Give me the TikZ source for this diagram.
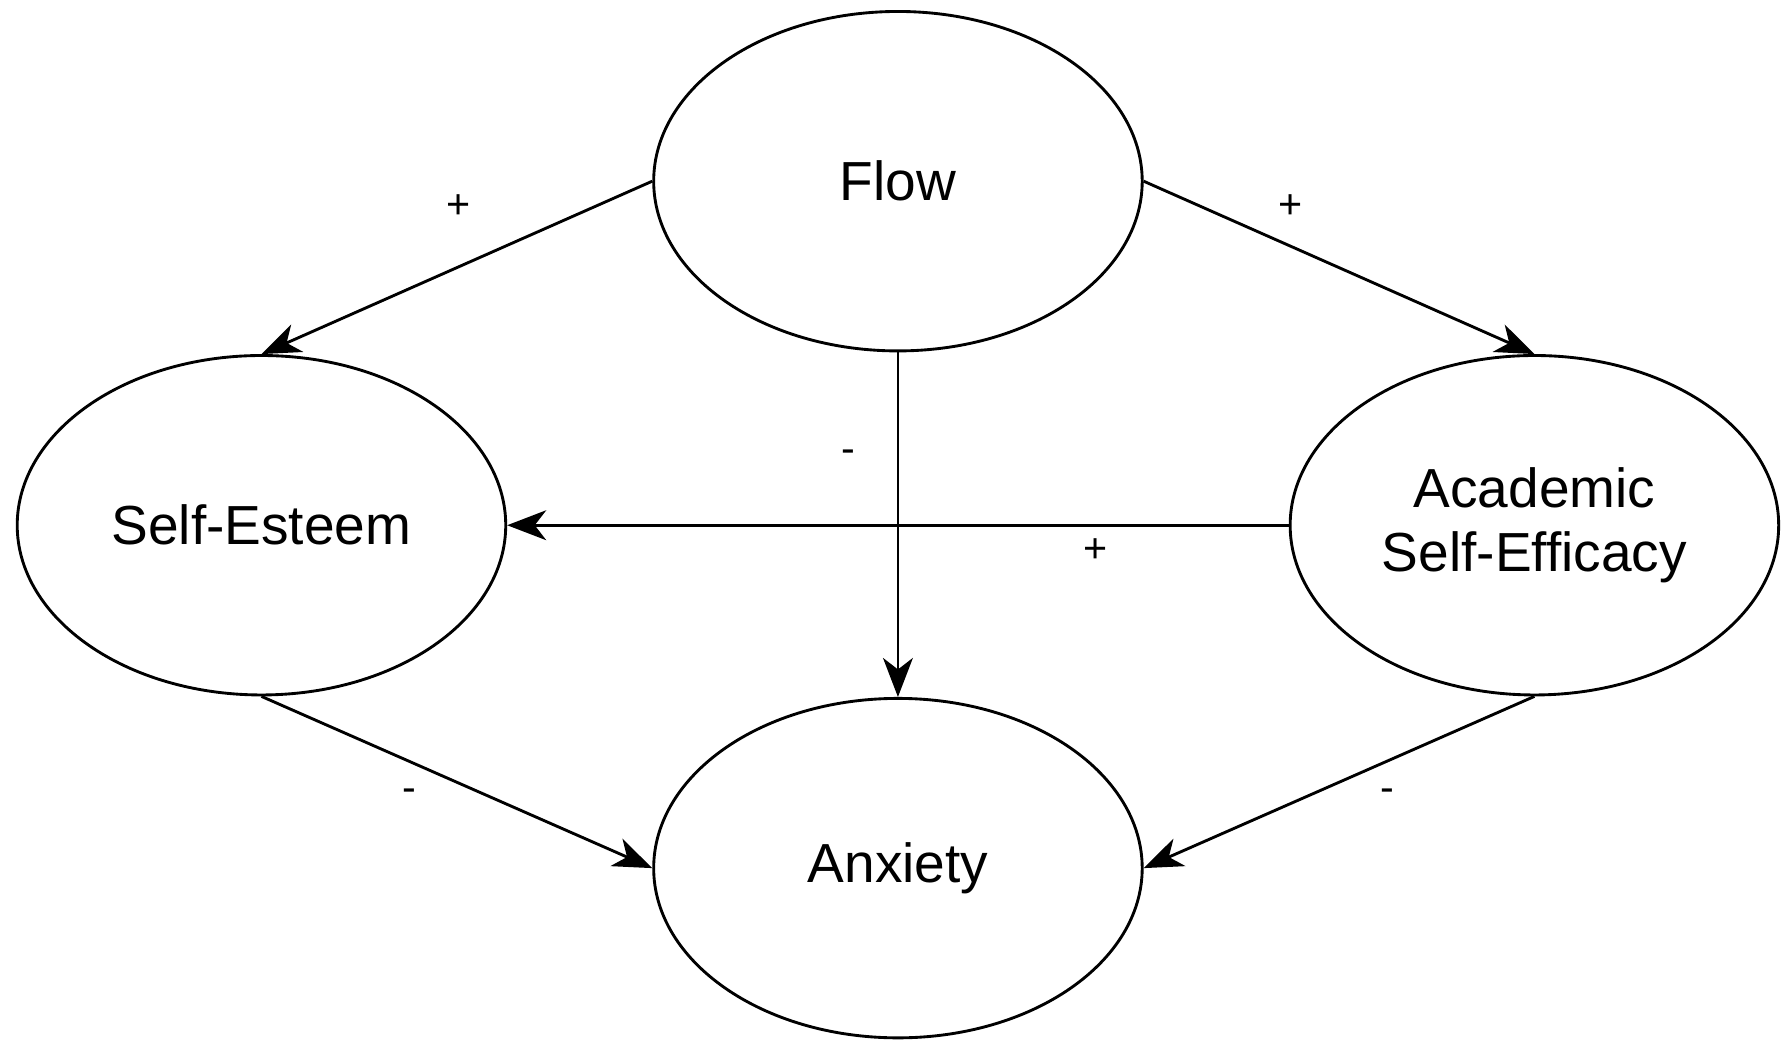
\documentclass[tikz,border=0pt]{standalone}
\usepackage{fontspec}
\setmainfont{Liberation Sans}
\usetikzlibrary{shapes.geometric,arrows.meta}
\begin{document}
\begin{tikzpicture}[x=1pt,y=-1pt,
  el/.style={ellipse,draw,line width=2.5pt,minimum width=426pt,minimum height=296pt,inner sep=0pt,align=center,font=\fontsize{48}{56}\selectfont},
  ar/.style={line width=2.5pt,-{Stealth[length=34pt,width=26pt,inset=10pt]}},
  lb/.style={font=\fontsize{36}{40}\selectfont}]
\useasboundingbox (0,0) rectangle (1560,920);
\node[el] (flow) at (783,158) {Flow};
\node[el] (se) at (228,458) {Self-Esteem};
\node[el] (ase) at (1338,458) {Academic\\Self-Efficacy};
\node[el] (anx) at (783,757) {Anxiety};
\draw[ar] (flow.west) -- (se.north);
\draw[ar] (flow.east) -- (ase.north);
\draw[ar] (flow.south) -- (anx.north);
\draw[ar] (ase.west) -- (se.east);
\draw[ar] (se.south) -- (anx.west);
\draw[ar] (ase.south) -- (anx.east);
\node[lb] (l1) at (400,180) {+};
\node[lb] (l2) at (1125,180) {+};
\node[lb] (l3) at (740,398) {-};
\node[lb] (l4) at (955,480) {+};
\node[lb] (l5) at (357,693) {-};
\node[lb] (l6) at (1210,693) {-};
\end{tikzpicture}
\end{document}
